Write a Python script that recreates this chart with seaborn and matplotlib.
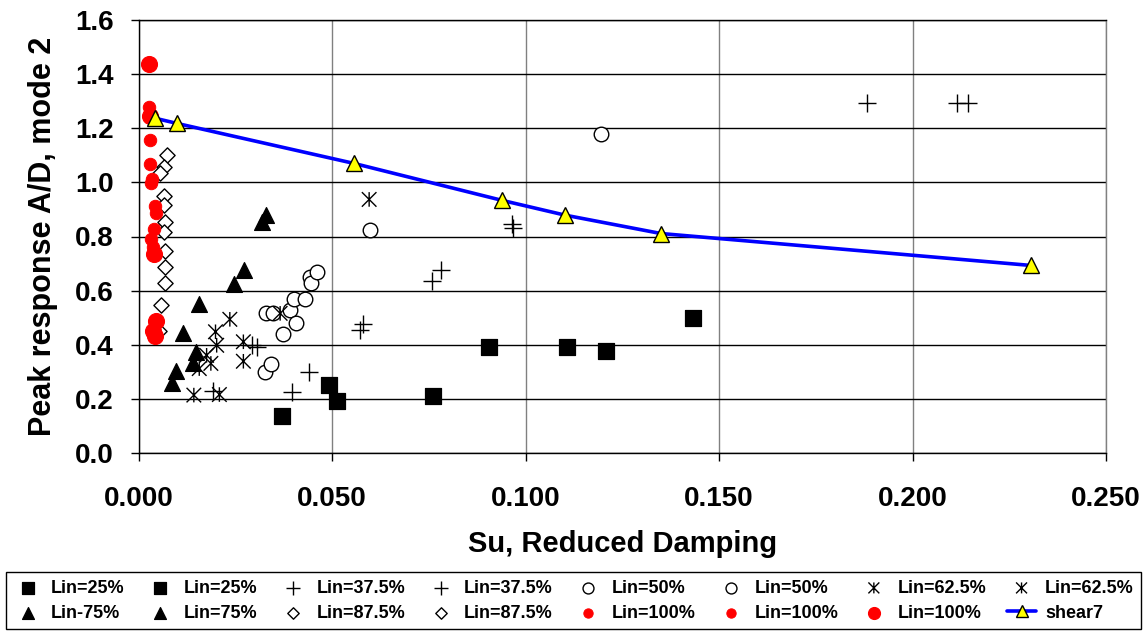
import numpy as np
import pandas as pd
import matplotlib
matplotlib.use("Agg")
import matplotlib.pyplot as plt
from matplotlib.path import Path
import seaborn as sns

# ---------------- data ----------------
lin25a_x = [0.0372, 0.0492, 0.0512, 0.0760]
lin25a_y = [0.137, 0.251, 0.193, 0.211]
lin25b_x = [0.0905, 0.1108, 0.1207, 0.1432]
lin25b_y = [0.390, 0.390, 0.377, 0.497]

lin375a_x = [0.0193, 0.0293, 0.0305, 0.0397, 0.0441]
lin375a_y = [0.229, 0.400, 0.390, 0.224, 0.300]
lin375b_x = [0.0572, 0.0581, 0.0758, 0.0782, 0.0964, 0.0968, 0.1882, 0.2114, 0.2143]
lin375b_y = [0.456, 0.475, 0.636, 0.676, 0.848, 0.830, 1.294, 1.294, 1.294]

lin50a_x = [0.0327, 0.0342, 0.0329, 0.0348, 0.0374, 0.0391, 0.0403]
lin50a_y = [0.300, 0.328, 0.518, 0.518, 0.438, 0.528, 0.568]
lin50b_x = [0.0407, 0.0431, 0.0443, 0.0446, 0.0462, 0.0599, 0.1195]
lin50b_y = [0.479, 0.568, 0.649, 0.630, 0.667, 0.824, 1.178]

lin625a_x = [0.0143, 0.0157, 0.0176, 0.0187, 0.0199, 0.0202]
lin625a_y = [0.214, 0.312, 0.361, 0.331, 0.448, 0.398]
lin625b_x = [0.0209, 0.0236, 0.0271, 0.0271, 0.0366, 0.0596]
lin625b_y = [0.216, 0.494, 0.411, 0.339, 0.516, 0.937]

lin75a_x = [0.0087, 0.0097, 0.0114, 0.0142, 0.0148]
lin75a_y = [0.257, 0.303, 0.445, 0.331, 0.374]
lin75b_x = [0.0156, 0.0247, 0.0273, 0.0318, 0.0330]
lin75b_y = [0.552, 0.626, 0.678, 0.854, 0.878]

lin875a_x = [0.0073, 0.0067, 0.0056, 0.0067, 0.0067, 0.0069]
lin875a_y = [1.103, 1.057, 1.033, 0.949, 0.916, 0.855]
lin875b_x = [0.0067, 0.0069, 0.0069, 0.0069, 0.0057, 0.0054]
lin875b_y = [0.818, 0.747, 0.688, 0.630, 0.547, 0.451]

lin100a_x = [0.0027, 0.0030, 0.0030, 0.0034, 0.0032]
lin100a_y = [1.278, 1.158, 1.067, 1.011, 0.996]
lin100b_x = [0.0043, 0.0045, 0.0039, 0.0032, 0.0037]
lin100b_y = [0.912, 0.887, 0.827, 0.790, 0.762]
lin100c_x = [0.0027, 0.0030, 0.0039, 0.0044, 0.0037, 0.0042]
lin100c_y = [1.436, 1.246, 0.737, 0.488, 0.451, 0.432]

shear7_x = [0.0043, 0.0099, 0.0557, 0.0938, 0.1102, 0.1350, 0.2306]
shear7_y = [1.237, 1.218, 1.070, 0.934, 0.879, 0.811, 0.693]

x_ticks = [0.0, 0.05, 0.10, 0.15, 0.20, 0.25]
y_ticks = [0.0, 0.2, 0.4, 0.6, 0.8, 1.0, 1.2, 1.4, 1.6]

# ---------------- style ----------------
sns.set_style("white")
plt.rcParams["font.family"] = ["Liberation Sans", "DejaVu Sans"]
plt.rcParams["font.weight"] = "bold"
plt.rcParams["text.color"] = "black"
plt.rcParams["axes.labelcolor"] = "black"
plt.rcParams["xtick.color"] = "black"
plt.rcParams["ytick.color"] = "black"

fig = plt.figure(figsize=(11.47, 6.34), dpi=100)
ax = fig.add_axes([138.5 / 1147, 1 - 453 / 634, (1106 - 138.5) / 1147, (453 - 20) / 634])

# Excel-style asterisk: an X crossed by a vertical stroke
ASTER = Path([(-1, -1), (1, 1), (-1, 1), (1, -1), (0, -1), (0, 1)],
             [Path.MOVETO, Path.LINETO, Path.MOVETO, Path.LINETO, Path.MOVETO, Path.LINETO])

series = [
    ("Lin=25%", lin25a_x, lin25a_y, dict(marker="s", s=120, color="black", edgecolor="black")),
    ("Lin=25%", lin25b_x, lin25b_y, dict(marker="s", s=120, color="black", edgecolor="black")),
    ("Lin=37.5%", lin375a_x, lin375a_y, dict(marker="+", s=170, color="black", linewidth=1.0)),
    ("Lin=37.5%", lin375b_x, lin375b_y, dict(marker="+", s=170, color="black", linewidth=1.0)),
    ("Lin=50%", lin50a_x, lin50a_y, dict(marker="o", s=110, facecolor="white", edgecolor="black", linewidth=1.0)),
    ("Lin=50%", lin50b_x, lin50b_y, dict(marker="o", s=110, facecolor="white", edgecolor="black", linewidth=1.0)),
    ("Lin=62.5%", lin625a_x, lin625a_y, dict(marker=ASTER, s=110, facecolor="none", edgecolor="black", linewidth=1.0)),
    ("Lin=62.5%", lin625b_x, lin625b_y, dict(marker=ASTER, s=110, facecolor="none", edgecolor="black", linewidth=1.0)),
    ("Lin-75%", lin75a_x, lin75a_y, dict(marker="^", s=130, color="black", edgecolor="black")),
    ("Lin=75%", lin75b_x, lin75b_y, dict(marker="^", s=130, color="black", edgecolor="black")),
    ("Lin=87.5%", lin875a_x, lin875a_y, dict(marker="D", s=60, facecolor="white", edgecolor="black", linewidth=1.0)),
    ("Lin=87.5%", lin875b_x, lin875b_y, dict(marker="D", s=60, facecolor="white", edgecolor="black", linewidth=1.0)),
    ("Lin=100%", lin100a_x, lin100a_y, dict(marker="o", s=80, color="#ff0000", edgecolor="#ff0000")),
    ("Lin=100%", lin100b_x, lin100b_y, dict(marker="o", s=80, color="#ff0000", edgecolor="#ff0000")),
    ("Lin=100%", lin100c_x, lin100c_y, dict(marker="o", s=130, color="#ff0000", edgecolor="#ff0000")),
]

handles = []
labels = []
for lab, xs, ys, kw in series:
    sns.scatterplot(x=xs, y=ys, ax=ax, legend=False, zorder=3, **kw)
    coll = ax.collections[-1]
    handles.append(coll)
    labels.append(lab)

sns.lineplot(x=shear7_x, y=shear7_y, ax=ax, sort=False, color="#0000ff", linewidth=2.6,
             marker="^", markersize=11, markerfacecolor="#ffff00", markeredgecolor="black",
             markeredgewidth=1.0, zorder=4, legend=False)
line = ax.lines[-1]
handles.append(line)
labels.append("shear7")

# ---------------- axes ----------------
ax.set_xlim(0, 0.25)
ax.set_ylim(0, 1.6)
ax.set_xticks(x_ticks)
ax.set_yticks(y_ticks)
ax.set_xticklabels([f"{v:.3f}" for v in x_ticks])
ax.set_yticklabels([f"{v:.1f}" for v in y_ticks])
ax.tick_params(axis="both", which="both", direction="out", length=6, width=1, colors="black",
               labelsize=20, left=True, bottom=True)
ax.tick_params(axis="x", pad=18)
ax.tick_params(axis="y", pad=12)
for lbl in ax.get_xticklabels() + ax.get_yticklabels():
    lbl.set_fontweight("bold")
ax.xaxis.grid(True, color="#808080", linewidth=1.0)
ax.yaxis.grid(True, color="black", linewidth=1.0)
ax.set_axisbelow(True)
for side in ["left", "bottom", "top"]:
    ax.spines[side].set_color("black")
    ax.spines[side].set_linewidth(1.0)
ax.spines["right"].set_color("#808080")
ax.spines["right"].set_linewidth(1.0)

ax.set_xlabel("Su, Reduced Damping", fontsize=21, fontweight="bold", labelpad=13)
ax.set_ylabel("Peak response A/D, mode 2", fontsize=22, fontweight="bold", labelpad=12)

# ---------------- legend (row-major order in 2 x 8 grid) ----------------
ncol = 8
nrow = 2
order = []
for c in range(ncol):
    for r in range(nrow):
        order.append(r * ncol + c)
leg = fig.legend([handles[i] for i in order], [labels[i] for i in order],
                 loc="lower left", ncol=ncol, mode="expand",
                 bbox_to_anchor=(6 / 1147, 1 - 629 / 634, 1135 / 1147, 51 / 634),
                 borderaxespad=0.0,
                 frameon=True, fancybox=False, edgecolor="black", framealpha=1,
                 prop={"weight": "bold", "size": 13}, markerscale=0.75,
                 handlelength=1.6, handletextpad=0.5, columnspacing=0.5,
                 borderpad=0.4, labelspacing=0.45, scatterpoints=1)
leg.get_frame().set_linewidth(1.0)

fig.savefig("out.png", dpi=100, facecolor="white")
